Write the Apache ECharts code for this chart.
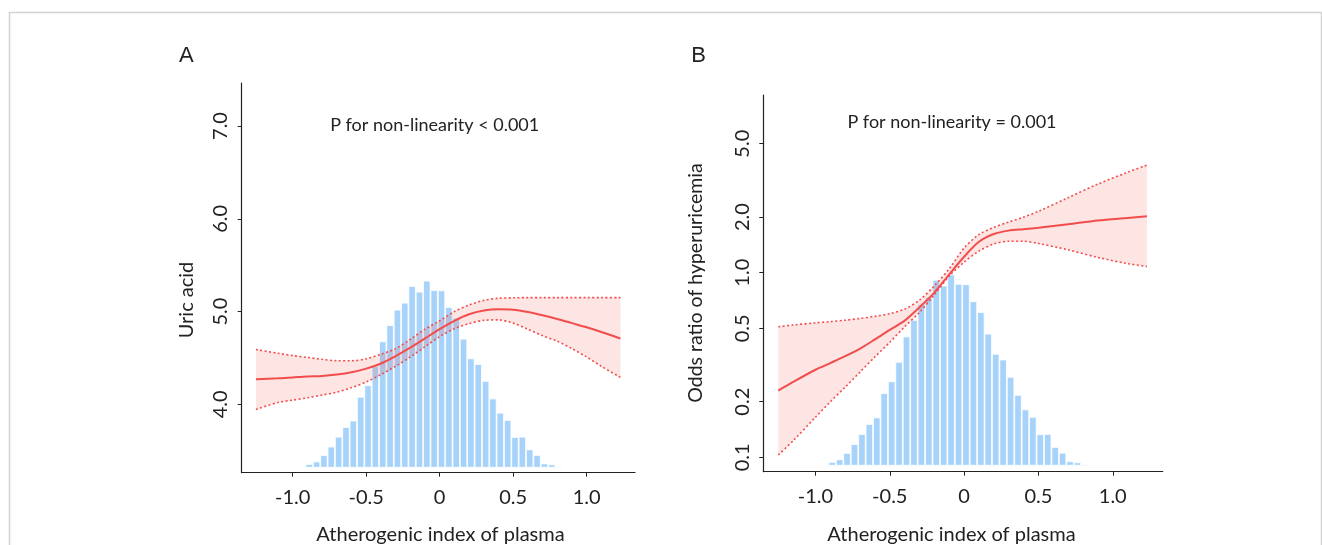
<!DOCTYPE html>
<html>
<head>
<meta charset="utf-8">
<script src="https://cdn.jsdelivr.net/npm/echarts@6/dist/echarts.min.js"></script>
<style>
html, body { margin: 0; padding: 0; background: #fff; }
#graph { width: 1322px; height: 545px; }
</style>
</head>
<body>
<div id="graph"></div>
<script>
// histogram of the atherogenic index (same distribution in both panels)
var binMid = [-1.0875, -1.0375, -0.9875, -0.9375, -0.8875, -0.8375, -0.7875, -0.7375, -0.6875, -0.6375,
  -0.5875, -0.5375, -0.4875, -0.4375, -0.3875, -0.3375, -0.2875, -0.2375, -0.1875, -0.1375,
  -0.0875, -0.0375, 0.0125, 0.0625, 0.1125, 0.1625, 0.2125, 0.2625, 0.3125, 0.3625,
  0.4125, 0.4625, 0.5125, 0.5625, 0.6125, 0.6625, 0.7125, 0.7625, 0.8125];
var binCount = [6, 6, 0, 8, 37, 62, 125, 211, 310, 407,
  471, 709, 824, 1015, 1263, 1425, 1580, 1650, 1817, 1760,
  1870, 1777, 1773, 1607, 1500, 1290, 1093, 1037, 868, 692,
  550, 477, 307, 310, 183, 127, 43, 33, 13];

// panel A : uric acid
var xA = [-1.25, -1.1, -1.0, -0.9, -0.8, -0.7, -0.6, -0.5, -0.4, -0.3, -0.2, -0.1, 0,
  0.1, 0.2, 0.3, 0.4, 0.5, 0.6, 0.7, 0.8, 0.9, 1.0, 1.1, 1.23];
var fitA = [4.27, 4.28, 4.29, 4.30, 4.305, 4.32, 4.345, 4.385, 4.44, 4.52, 4.61, 4.71, 4.81,
  4.90, 4.97, 5.01, 5.025, 5.02, 4.995, 4.96, 4.92, 4.875, 4.83, 4.78, 4.71];
var upA = [4.59, 4.55, 4.525, 4.505, 4.485, 4.47, 4.47, 4.49, 4.54, 4.60, 4.70, 4.81, 4.90,
  5.00, 5.07, 5.12, 5.143, 5.148, 5.15, 5.15, 5.15, 5.15, 5.15, 5.15, 5.15];
var loA = [3.945, 4.02, 4.045, 4.07, 4.10, 4.13, 4.18, 4.24, 4.32, 4.41, 4.51, 4.62, 4.73,
  4.815, 4.87, 4.905, 4.91, 4.875, 4.81, 4.74, 4.68, 4.60, 4.51, 4.41, 4.29];

// panel B : odds ratio of hyperuricemia
var xB = [-1.25, -1.15, -1.0, -0.9, -0.8, -0.7, -0.6, -0.5, -0.4, -0.3, -0.2, -0.1, 0,
  0.1, 0.2, 0.3, 0.4, 0.5, 0.7, 0.9, 1.1, 1.23];
var orB = [0.23, 0.256, 0.298, 0.324, 0.353, 0.388, 0.435, 0.49, 0.55, 0.65, 0.78, 0.98, 1.22,
  1.47, 1.62, 1.69, 1.72, 1.75, 1.83, 1.92, 1.98, 2.02];
var upB = [0.51, 0.521, 0.535, 0.543, 0.553, 0.565, 0.58, 0.60, 0.635, 0.71, 0.85, 1.05, 1.36,
  1.61, 1.76, 1.88, 2.0, 2.15, 2.55, 3.02, 3.5, 3.83];
var loB = [0.103, 0.123, 0.165, 0.20, 0.24, 0.29, 0.35, 0.42, 0.51, 0.61, 0.76, 0.96, 1.14,
  1.31, 1.43, 1.48, 1.48, 1.44, 1.33, 1.21, 1.12, 1.08];

var tickX = [-1, -0.5, 0, 0.5, 1];
var tickA = [4, 5, 6, 7];
var tickB = [0.1, 0.2, 0.5, 1, 2, 5];

var font = 'Lato';
var ink = '#222';
var red = '#f24d4d';
var lg = function (v) { return Math.log10(v); };
var same = function (v) { return v; };

// points are written [y, x] and mapped with encode, so that stacking runs on y
function pts(xs, ys, f) {
  return xs.map(function (x, i) { return [f(ys[i]), x]; });
}
function gap(xs, lo, hi, f) {
  return xs.map(function (x, i) { return [f(hi[i]) - f(lo[i]), x]; });
}

function xAxisFor(g, min, max) {
  return {
    gridIndex: g, type: 'value', min: min, max: max,
    axisLine: { onZero: false, lineStyle: { color: ink, width: 1.2 } },
    axisTick: { length: 4, customValues: tickX, lineStyle: { color: ink } },
    axisLabel: {
      customValues: tickX, margin: 15, fontSize: 20, fontFamily: font, color: ink,
      formatter: function (v) { return v === 0 ? '0' : v.toFixed(1); }
    },
    splitLine: { show: false }
  };
}
function yAxisFor(g, min, max, ticks, fmt) {
  return {
    gridIndex: g, type: 'value', min: min, max: max,
    axisLine: { onZero: false, lineStyle: { color: ink, width: 1.2 } },
    axisTick: { length: 4, customValues: ticks, lineStyle: { color: ink } },
    axisLabel: { customValues: ticks, rotate: 90, margin: 11, fontSize: 20, fontFamily: font, color: ink, formatter: fmt },
    splitLine: { show: false }
  };
}

function panel(xi, yi, hi, xs, fit, up, lo, f, barW) {
  var band = 'band' + xi;
  var enc = { x: 1, y: 0 };
  var dots = { color: red, width: 1.6, type: [2, 2.4] };
  return [
    {
      type: 'bar', xAxisIndex: xi, yAxisIndex: hi, barWidth: barW,
      data: binMid.map(function (m, i) { return [m, binCount[i]]; }),
      itemStyle: { color: '#a7d3fa', borderColor: '#ffffff', borderWidth: 0.8 }
    },
    {
      type: 'line', xAxisIndex: xi, yAxisIndex: yi, stack: band, stackStrategy: 'all',
      smooth: 0.3, symbol: 'none', encode: enc,
      data: pts(xs, lo, f), lineStyle: { opacity: 0 }
    },
    {
      type: 'line', xAxisIndex: xi, yAxisIndex: yi, stack: band, stackStrategy: 'all',
      smooth: 0.3, symbol: 'none', encode: enc,
      data: gap(xs, lo, up, f), lineStyle: { opacity: 0 },
      areaStyle: { color: 'rgba(240,80,70,0.15)', opacity: 1 }
    },
    {
      type: 'line', xAxisIndex: xi, yAxisIndex: yi, smooth: 0.3, symbol: 'none', encode: enc,
      data: pts(xs, up, f), lineStyle: dots
    },
    {
      type: 'line', xAxisIndex: xi, yAxisIndex: yi, smooth: 0.3, symbol: 'none', encode: enc,
      data: pts(xs, lo, f), lineStyle: dots
    },
    {
      type: 'line', xAxisIndex: xi, yAxisIndex: yi, smooth: 0.3, symbol: 'none', encode: enc,
      data: pts(xs, fit, f), lineStyle: { color: red, width: 2 }
    }
  ];
}

function label(x, y, text, size, fam, rot) {
  return {
    type: 'text', x: x, y: y, rotation: rot || 0,
    style: { text: text, font: size + 'px ' + fam, fill: ink, align: 'center', verticalAlign: 'middle' }
  };
}

var myChart = echarts.init(document.getElementById('graph'));

var option = {
  animation: false,
  backgroundColor: '#ffffff',
  grid: [
    { left: 241.7, top: 83, width: 393.3, height: 389.7 },
    { left: 763.3, top: 95, width: 399.4, height: 376.7 }
  ],
  xAxis: [
    xAxisFor(0, -1.347, 1.329),
    xAxisFor(1, -1.351, 1.336)
  ],
  yAxis: [
    yAxisFor(0, 3.2627, 7.4635, tickA, function (v) { return v.toFixed(1); }),
    { gridIndex: 0, type: 'value', min: -50, max: 3847, show: false },
    yAxisFor(1, -1.078, 0.9626, tickB.map(lg), function (v) { return Math.pow(10, v).toFixed(1); }),
    { gridIndex: 1, type: 'value', min: -58.6, max: 3622, show: false }
  ],
  series: panel(0, 0, 1, xA, fitA, upA, loA, same, 7.35)
    .concat(panel(1, 2, 3, xB, orB, upB, loB, lg, 7.44)),
  graphic: [
    { type: 'rect', shape: { x: 9.5, y: 12.5, width: 1312, height: 600 }, style: { fill: 'none', stroke: '#d2d2d2', lineWidth: 1.5 } },
    label(186.3, 56, 'A', 22, 'Liberation Sans'),
    label(698.5, 56, 'B', 22, 'Liberation Sans'),
    label(434.7, 125.5, 'P for non-linearity < 0.001', 18, font),
    label(952, 122, 'P for non-linearity = 0.001', 18, font),
    label(440.5, 535, 'Atherogenic index of plasma', 20, font),
    label(951.5, 535, 'Atherogenic index of plasma', 20, font),
    label(187, 300, 'Uric acid', 20, font, Math.PI / 2),
    label(696, 283, 'Odds ratio of hyperuricemia', 19.5, font, Math.PI / 2)
  ]
};

myChart.setOption(option);
</script>
</body>
</html>
